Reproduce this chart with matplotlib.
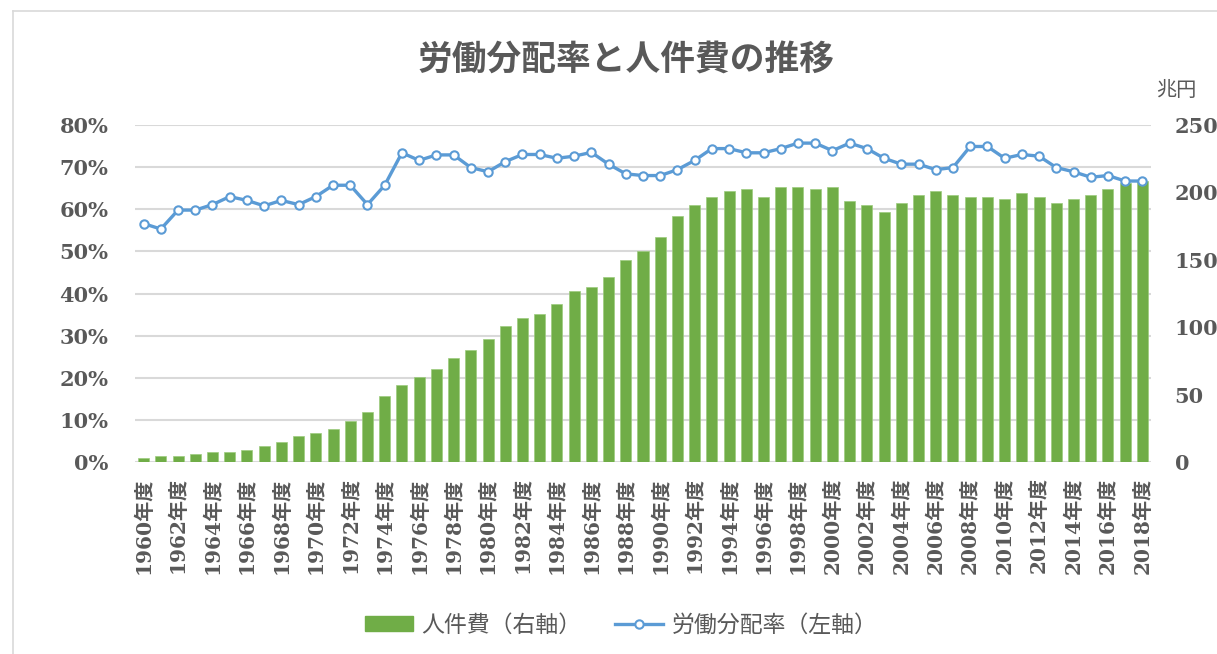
import matplotlib
matplotlib.use("Agg")
import matplotlib.pyplot as plt
from matplotlib.lines import Line2D
from matplotlib.patches import Patch
from matplotlib.ticker import FixedLocator

years = list(range(1960, 2019))
labor_share = [
    56.6, 55.3, 59.8, 59.8, 61.1, 63.0, 62.1, 60.8, 62.1, 61.1,
    63.0, 65.7, 65.7, 61.1, 65.7, 73.4, 71.6, 72.9, 72.9, 69.9,
    68.9, 71.3, 73.0, 73.0, 72.1, 72.6, 73.5, 70.7, 68.4, 68.0,
    68.0, 69.4, 71.6, 74.4, 74.4, 73.4, 73.4, 74.4, 75.7, 75.7,
    73.9, 75.7, 74.4, 72.1, 70.7, 70.7, 69.4, 69.9, 74.9, 74.9,
    72.1, 73.0, 72.6, 69.9, 68.9, 67.6, 68.0, 66.7, 66.7,
]
labor_cost = [
    3.2, 4.7, 4.7, 6.2, 7.7, 7.7, 9.2, 11.9, 14.6, 19.1,
    21.8, 24.5, 30.2, 37.4, 48.8, 57.4, 63.1, 68.8, 77.2, 82.9,
    91.3, 101.2, 106.9, 109.9, 117.1, 127.0, 130.0, 137.1, 149.5, 156.7,
    166.6, 182.4, 190.8, 196.5, 201.0, 202.2, 196.5, 203.7, 203.7, 202.2,
    203.7, 193.8, 190.8, 185.4, 192.3, 198.0, 201.0, 198.0, 196.5, 196.5,
    195.0, 199.5, 196.5, 192.3, 195.0, 198.0, 202.5, 206.7, 208.2,
]
x_labels = [f"{y}年度" for y in years]
left_ticks = [0, 10, 20, 30, 40, 50, 60, 70, 80]
right_ticks = [0, 50, 100, 150, 200, 250]

title = "労働分配率と人件費の推移"
unit_label = "兆円"
bar_name = "人件費（右軸）"
line_name = "労働分配率（左軸）"

GREEN = "#70AD47"
BLUE = "#5B9BD5"
TXT = "#595959"
GRID = "#D9D9D9"

W, H = 1217, 654
fig = plt.figure(figsize=(W / 100, H / 100), dpi=100)

x0, x1 = 135, 1151
y_top, y_bot = 125, 462
ax = fig.add_axes([x0 / W, 1 - y_bot / H, (x1 - x0) / W, (y_bot - y_top) / H])
ax2 = ax.twinx()

idx = list(range(len(years)))

ax.set_ylim(0, 80)
ax2.set_ylim(0, 250)
ax.set_xlim(-0.5, len(years) - 0.5)

# gridlines at the left-axis ticks, drawn beneath the bars
ax2.hlines(left_ticks, 0, 1, transform=ax.get_yaxis_transform(),
           colors=GRID, linewidth=1.5, zorder=0)

ax2.bar(idx, labor_cost, width=0.64, color=GREEN, edgecolor="#9CCB7E", linewidth=0.5, zorder=2)
ax2.yaxis.set_major_locator(FixedLocator(right_ticks))
ax2.set_yticklabels([str(v) for v in right_ticks])

ax.set_zorder(ax2.get_zorder() + 1)
ax.patch.set_visible(False)
ax.plot(idx, labor_share, color=BLUE, linewidth=2.4, marker="o", markersize=6,
        markerfacecolor="white", markeredgecolor=BLUE, markeredgewidth=1.5, zorder=3)
ax.yaxis.set_major_locator(FixedLocator(left_ticks))
ax.set_yticklabels([f"{v}%" for v in left_ticks])

ax.xaxis.set_major_locator(FixedLocator(idx[::2]))
ax.set_xticklabels(x_labels[::2], rotation=90,
                   fontfamily=["DejaVu Serif", "Noto Sans CJK JP"],
                   fontweight="bold", fontsize=14.5, color=TXT)

for a in (ax, ax2):
    for s in a.spines.values():
        s.set_visible(False)
    a.tick_params(length=0)

for lab in ax.get_yticklabels() + ax2.get_yticklabels():
    lab.set_fontfamily("DejaVu Serif")
    lab.set_fontweight("bold")
    lab.set_fontsize(15)
    lab.set_color(TXT)
ax.tick_params(axis="y", pad=19)
ax2.tick_params(axis="y", pad=17)
ax.tick_params(axis="x", pad=11)

fig.text(626 / W, 1 - 60 / H, title, ha="center", va="center",
         fontfamily="Noto Sans CJK JP", fontweight="bold", fontsize=25, color=TXT)
fig.text(1176 / W, 1 - 90 / H, unit_label, ha="center", va="center",
         fontfamily="Noto Sans CJK JP", fontsize=14.5, color=TXT)

handles = [
    Patch(facecolor=GREEN, edgecolor=GREEN),
    Line2D([0], [0], color=BLUE, linewidth=2.4, marker="o", markersize=6,
           markerfacecolor="white", markeredgecolor=BLUE, markeredgewidth=1.5),
]
fig.legend(handles, [bar_name, line_name], loc="center", bbox_to_anchor=(621 / W, 1 - 625 / H),
           ncol=2, frameon=False, prop={"family": "Noto Sans CJK JP", "size": 16.5},
           labelcolor=TXT, handlelength=2.1, handleheight=0.6, columnspacing=1.5, handletextpad=0.35)

fig.add_artist(Line2D([12.5 / W, 12.5 / W], [0, 1 - 10.5 / H], transform=fig.transFigure,
                      color=GRID, linewidth=1.2))
fig.add_artist(Line2D([12.5 / W, 1], [1 - 10.5 / H, 1 - 10.5 / H], transform=fig.transFigure,
                      color=GRID, linewidth=1.2))

fig.savefig("out.png", dpi=100, facecolor="white")
